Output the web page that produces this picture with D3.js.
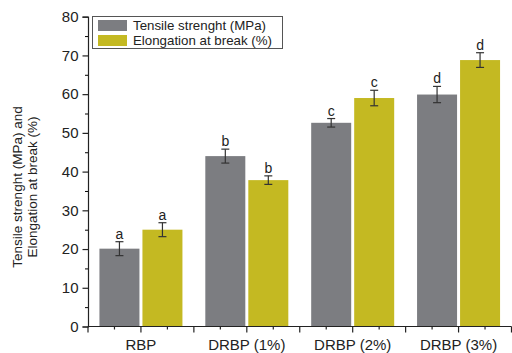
<!DOCTYPE html>
<html>
<head>
<meta charset="utf-8">
<script src="https://d3js.org/d3.v7.min.js"></script>
<style>
  body { margin: 0; background: #fff; }
  text { font-family: "Liberation Sans", Arial, sans-serif; fill: #222; }
</style>
</head>
<body>
<svg width="512" height="353"></svg>
<script>
// data
const categories = ["RBP", "DRBP (1%)", "DRBP (2%)", "DRBP (3%)"];
const seriesNames = ["Tensile strenght (MPa)", "Elongation at break (%)"];
const tensile = [20.1, 44.0, 52.6, 59.9];
const tensileErr = [1.8, 1.8, 1.1, 2.1];
const elongation = [25.0, 37.8, 59.0, 68.8];
const elongationErr = [1.8, 1.1, 2.0, 1.9];
const tensileLetters = ["a", "b", "c", "d"];
const elongationLetters = ["a", "b", "c", "d"];
const colors = ["#7c7d81", "#c4b922"];

var svg = d3.select("svg"),
    width = +svg.attr("width"),
    height = +svg.attr("height");

const mLeft = 88, mRight = 511.5, mTop = 16.7, mBottom = 326.5;

var x = d3.scaleBand()
    .domain(categories)
    .range([mLeft, mRight])
    .paddingInner(0)
    .paddingOuter(0);

var y = d3.scaleLinear()
    .domain([0, 80])
    .range([mBottom, mTop]);

const barW = 40, gap = 3;

// rows for bars
var rows = [];
categories.forEach((c, i) => {
    rows.push({ cat: c, s: 0, v: tensile[i], e: tensileErr[i], l: tensileLetters[i] });
    rows.push({ cat: c, s: 1, v: elongation[i], e: elongationErr[i], l: elongationLetters[i] });
});

function barX(d) {
    const c = x(d.cat) + x.bandwidth() / 2;
    return d.s === 0 ? c - gap / 2 - barW : c + gap / 2;
}

svg.selectAll(".bar")
    .data(rows)
    .enter().append("rect")
    .attr("class", "bar")
    .attr("x", barX)
    .attr("y", d => y(d.v))
    .attr("width", barW)
    .attr("height", d => y(0) - y(d.v))
    .attr("fill", d => colors[d.s]);

// error bars
var err = svg.selectAll(".err")
    .data(rows)
    .enter().append("g")
    .attr("class", "err")
    .attr("stroke", "#333")
    .attr("stroke-width", 1.2);

err.append("line")
    .attr("x1", d => barX(d) + barW / 2)
    .attr("x2", d => barX(d) + barW / 2)
    .attr("y1", d => y(d.v + d.e))
    .attr("y2", d => y(d.v - d.e));
err.append("line")
    .attr("x1", d => barX(d) + barW / 2 - 4)
    .attr("x2", d => barX(d) + barW / 2 + 4)
    .attr("y1", d => y(d.v + d.e))
    .attr("y2", d => y(d.v + d.e));
err.append("line")
    .attr("x1", d => barX(d) + barW / 2 - 4)
    .attr("x2", d => barX(d) + barW / 2 + 4)
    .attr("y1", d => y(d.v - d.e))
    .attr("y2", d => y(d.v - d.e));

svg.selectAll(".letter")
    .data(rows)
    .enter().append("text")
    .attr("class", "letter")
    .attr("x", d => barX(d) + barW / 2)
    .attr("y", d => y(d.v + d.e) - 3)
    .attr("text-anchor", "middle")
    .attr("font-size", 14)
    .text(d => d.l);

// y axis with minor ticks
var yAxis = svg.append("g")
    .attr("transform", `translate(${mLeft},0)`)
    .call(d3.axisLeft(y).tickValues(d3.range(0, 81, 10)).tickSize(5.5).tickPadding(4));
yAxis.selectAll("text").attr("font-size", 15).attr("fill", "#222");
svg.append("g")
    .attr("transform", `translate(${mLeft},0)`)
    .call(d3.axisLeft(y).tickValues(d3.range(5, 80, 10)).tickSize(3).tickFormat(""))
    .select(".domain").remove();

// x axis: major ticks each half band, minor between
var half = x.bandwidth() / 2;
var majorX = d3.range(0, categories.length * 2 + 1).map(i => mLeft + i * half);
var minorX = d3.range(0, categories.length * 2).map(i => mLeft + i * half + half / 2);
var xg = svg.append("g").attr("stroke", "#222").attr("stroke-width", 1.2);
xg.append("line").attr("x1", mLeft).attr("x2", mRight).attr("y1", mBottom).attr("y2", mBottom);
xg.selectAll(".maj").data(majorX).enter().append("line")
    .attr("x1", d => d).attr("x2", d => d).attr("y1", mBottom).attr("y2", mBottom + 6);
xg.selectAll(".min").data(minorX).enter().append("line")
    .attr("x1", d => d).attr("x2", d => d).attr("y1", mBottom).attr("y2", mBottom + 3);
svg.selectAll(".xlab")
    .data(categories)
    .enter().append("text")
    .attr("x", d => x(d) + half)
    .attr("y", mBottom + 23.5)
    .attr("text-anchor", "middle")
    .attr("font-size", 15)
    .text(d => d);

yAxis.selectAll("path, line").attr("stroke", "#222").attr("stroke-width", 1.2);

// y label
var yl = svg.append("text")
    .attr("transform", "translate(22,187) rotate(-90)")
    .attr("text-anchor", "middle")
    .attr("font-size", 13.5);
yl.append("tspan").attr("x", 0).attr("dy", 0).text("Tensile strenght (MPa) and");
yl.append("tspan").attr("x", 0).attr("dy", 15).text("Elongation at break (%)");

// legend
var lg = svg.append("g");
lg.append("rect")
    .attr("x", 92.5).attr("y", 16.5).attr("width", 190).attr("height", 32)
    .attr("fill", "#fff").attr("stroke", "#555").attr("stroke-width", 1);
seriesNames.forEach((n, i) => {
    lg.append("rect")
        .attr("x", 98).attr("y", 20 + i * 15).attr("width", 29).attr("height", 11)
        .attr("fill", colors[i]);
    lg.append("text")
        .attr("x", 133).attr("y", 30 + i * 15)
        .attr("font-size", 13.3)
        .text(n);
});
</script>
</body>
</html>
